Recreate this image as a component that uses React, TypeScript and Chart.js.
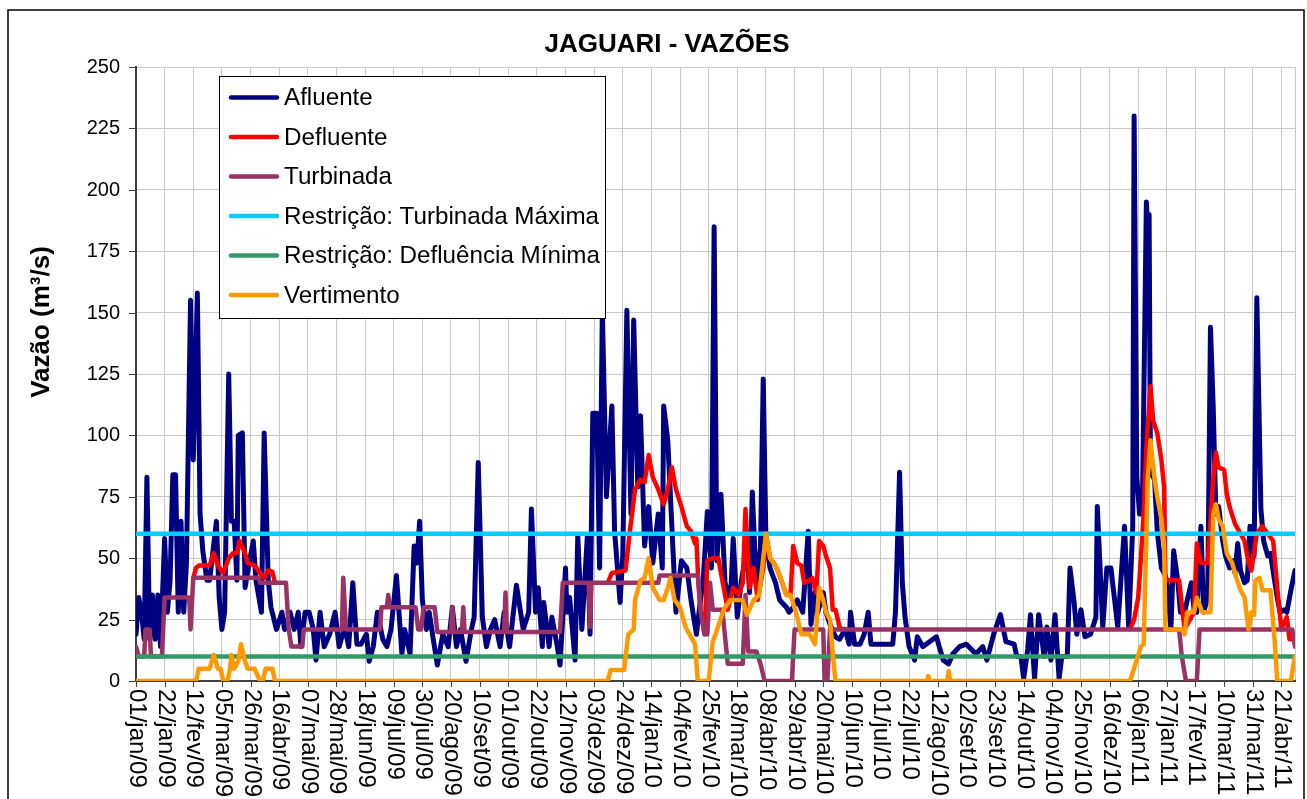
import React, { useEffect, useRef } from 'react';
import { Chart, registerables } from 'chart.js';

Chart.register(...registerables);

const TITLE = 'JAGUARI - VAZÕES';
const Y_TITLE = 'Vazão (m³/s)';

const X_TICK_LABELS = ['01/jan/09', '22/jan/09', '12/fev/09', '05/mar/09', '26/mar/09', '16/abr/09', '07/mai/09', '28/mai/09', '18/jun/09', '09/jul/09', '30/jul/09', '20/ago/09', '10/set/09', '01/out/09', '22/out/09', '12/nov/09', '03/dez/09', '24/dez/09', '14/jan/10', '04/fev/10', '25/fev/10', '18/mar/10', '08/abr/10', '29/abr/10', '20/mai/10', '10/jun/10', '01/jul/10', '22/jul/10', '12/ago/10', '02/set/10', '23/set/10', '14/out/10', '04/nov/10', '25/nov/10', '16/dez/10', '06/jan/11', '27/jan/11', '17/fev/11', '10/mar/11', '31/mar/11', '21/abr/11'];
const X_TICK_STEP_DAYS = 21;
const LAST_DAY = 850;
const Y_TICK_LABELS = ['0', '25', '50', '75', '100', '125', '150', '175', '200', '225', '250'];
const Y_TICK_VALUES = [0, 25, 50, 75, 100, 125, 150, 175, 200, 225, 250];

const SERIES_NAMES = ['Afluente', 'Defluente', 'Turbinada', 'Restrição: Turbinada Máxima', 'Restrição: Defluência Mínima', 'Vertimento'];
const SERIES_COLORS = ['#000080', '#FF0000', '#993366', '#00CCFF', '#339966', '#FF9900'];

// [day since 01/jan/09, m³/s]
const afluente: [number, number][] = [
  [0, 19], [2, 34], [4, 28], [6, 17], [8, 83], [10, 17], [12, 35], [14, 17], [16, 35], [18, 14], [21, 58], [23, 28], [25, 41], [27, 84], [29, 84], [31, 28], [33, 65], [35, 28], [37, 48], [40, 155], [42, 90], [45, 158], [47, 68], [49, 53], [52, 41], [54, 41], [59, 65], [61, 34], [63, 21], [65, 28], [68, 125], [70, 65], [72, 65], [74, 41], [75, 100], [78, 101], [80, 38], [83, 48], [86, 57], [88, 41], [92, 28], [94, 101], [97, 41], [99, 30], [103, 21], [107, 28], [109, 21], [113, 28], [116, 21], [119, 28], [121, 14], [124, 28], [127, 28], [130, 21], [132, 8.5], [135, 28], [138, 14], [142, 19],
  [146, 28], [149, 14], [153, 22], [156, 14], [159, 40], [162, 15], [165, 15], [169, 19], [171, 8], [174, 14], [177, 28], [181, 17], [184, 14], [187, 21], [191, 43], [195, 11], [197, 21], [201, 11], [204, 55], [206, 48], [208, 65], [210, 33], [213, 21], [215, 28], [218, 17], [221, 6.5], [225, 19], [229, 14], [232, 30], [235, 14], [238, 21], [242, 8], [246, 21], [248, 26], [251, 89], [254, 26], [257, 14], [260, 21], [263, 25], [267, 14], [270, 28], [274, 14], [279, 39],
  [284, 21], [288, 28], [290, 70], [293, 28], [295, 38], [298, 14], [299, 32], [303, 14], [305, 26], [309, 14], [311, 6.5], [315, 46], [316, 28], [318, 34], [322, 8.5], [324, 59], [327, 21], [331, 59], [333, 19], [335, 109], [338, 109], [340, 46], [342, 151], [345, 75], [349, 112], [351, 61], [355, 32], [357, 51], [360, 151], [363, 68], [365, 147], [368, 79], [370, 108], [373, 55], [376, 71], [379, 48], [383, 68], [386, 46], [387, 112], [390, 98], [393, 63], [396, 28], [400, 49], [404, 46], [407, 33], [411, 19],
  [414, 33], [416, 41], [419, 69], [422, 46], [424, 185], [426, 49], [429, 76], [432, 40], [436, 33], [438, 58], [441, 26], [444, 41], [448, 54], [450, 36], [452, 77], [455, 38], [458, 54], [460, 123], [462, 57], [465, 46], [469, 40], [472, 33], [477, 30],
  [479, 28], [482, 30], [485, 33], [489, 28], [493, 61], [495, 23], [498, 36], [500, 28], [504, 36], [506, 28], [509, 23], [513, 18], [516, 17], [520, 21], [523, 15], [524, 28], [527, 15], [531, 15], [534, 19], [537, 28], [539, 15], [543, 15], [546, 15], [550, 15], [555, 15], [557, 28], [560, 85], [562, 40], [564, 26], [567, 14], [571, 8.5], [573, 18], [577, 14], [582, 16], [587, 18], [592, 8.5], [596, 7], [599, 11], [604, 14], [609, 15], [616, 11], [621, 14],
  [624, 8.5], [629, 19], [634, 27], [638, 16], [644, 15], [646, 10], [649, 10], [651, 1], [654, 13], [656, 27], [659, 1], [662, 27], [666, 10], [668, 22], [671, 8.5], [674, 27], [677, 1], [679, 10], [683, 10], [685, 46], [688, 32], [690, 19], [693, 29], [696, 18], [700, 19], [704, 26], [705, 71], [709, 22], [712, 46], [715, 46], [720, 22], [725, 63], [728, 22], [731, 63], [732, 230], [734, 83],
  [736, 68], [738, 68], [741, 195], [742, 185], [743, 190], [744, 85], [747, 82], [749, 61], [752, 46], [754, 44], [756, 41], [759, 21], [761, 53], [764, 41], [766, 28], [769, 28], [771, 33], [774, 40], [776, 29], [778, 28], [781, 63], [783, 28], [786, 34], [788, 144], [790, 112], [792, 68], [794, 71], [797, 57], [799, 51], [802, 46], [804, 49], [806, 44], [808, 56], [810, 45], [813, 40], [815, 41], [817, 63], [820, 51], [822, 156], [825, 70], [827, 57], [830, 51], [832, 52], [835, 41], [837, 34], [839, 28], [842, 29], [844, 28], [847, 37], [850, 45],
];

// null marks where Defluente lies under Turbinada
const defluente: [number, number | null][] = [
  [42, 42], [44, 46], [46, 47], [54, 47], [57, 52], [60, 47], [64, 44], [68, 50], [71, 52], [74, 52], [76, 57], [80, 52], [82, 48], [87, 47], [91, 44], [94, 42], [97, 45], [100, 44.5], [102, 40], [103, null],
  [346, 40], [349, 44], [359, 45], [362, 60], [366, 78], [370, 82], [373, 81], [376, 92], [379, 83], [383, 78], [387, 72], [390, 78], [393, 87], [396, 78], [400, 71], [404, 63], [407, 61], [410, 56], [411, 58], [412, 45], [414, 29], [417, 19], [419, 49], [423, 50], [427, 50], [431, 38], [434, 29], [438, 38], [442, 35], [445, 40], [447, 70], [450, 38], [453, 46], [456, 33], [460, 46], [462, 60], [465, 50], [469, 47], [472, 43], [477, 35], [480, 35], [482, 55], [485, 48], [488, 47], [490, 40], [494, 41], [496, 42], [499, 36], [501, 57], [504, 55], [506, 51], [509, 46], [511, 29], [513, 29], [516, 22], [518, 21], [519, null],
  [729, 21], [732, 25], [735, 34], [737, 50], [739, 68], [741, 95], [744, 120], [746, 106], [749, 101], [752, 90], [754, 79], [755, 41], [765, 41], [769, 21], [776, 28], [778, 56], [781, 48], [786, 48], [790, 82], [792, 93], [794, 87], [798, 86], [800, 76], [802, 71], [806, 64], [810, 60], [813, 57], [816, 48], [818, 45], [822, 60], [826, 63], [834, 57], [837, 38], [840, 21], [844, 26], [846, 17], [850, 17],
];

const turbinada: [number, number][] = [
  [0, 14], [2, 10], [6, 10], [7, 21], [10, 21], [11, 10], [19, 10], [21, 34], [39, 34], [40, 21], [42, 42], [90, 42], [91, 40], [110, 40], [112, 21], [114, 14], [122, 14], [123, 21], [151, 21], [152, 42], [154, 21], [179, 21], [180, 30], [184, 30], [185, 35], [186, 30], [205, 30], [207, 21], [209, 21], [211, 30], [219, 30], [221, 20], [231, 20], [232, 30], [233, 20], [239, 20], [240, 30], [241, 20], [270, 20], [271, 36], [272, 20], [311, 20], [313, 40], [332, 40], [333, 22], [334, 40], [383, 40], [384, 43], [412, 43], [414, 29], [417, 19], [419, 19], [421, 40], [423, 29], [430, 29], [434, 7], [445, 7], [447, 35], [449, 12], [455, 12], [458, 7], [461, 0], [481, 0], [483, 21], [504, 21], [505, 0], [507, 0], [509, 21], [765, 21], [767, 10], [770, 0], [778, 0], [780, 21], [848, 21], [850, 14],
];

const TURBINADA_MAXIMA = 60;
const DEFLUENCIA_MINIMA = 10;

const vertimento: [number, number][] = [
  [0, 0], [44, 0], [46, 5], [54, 5], [57, 10.6], [60, 5], [62, 5], [64, 0], [67, 0], [69, 5], [70, 10.6], [72, 5], [75, 8], [77, 15], [80, 8], [82, 5], [87, 5], [91, 0], [93, 0], [95, 5], [100, 5], [102, 0],
  [346, 0], [348, 4.5], [358, 4.5], [361, 19], [365, 21], [366, 33], [370, 41], [373, 42], [376, 50], [379, 38], [384, 33], [387, 33], [390, 38], [392, 42], [395, 33], [399, 30], [403, 22], [406, 19], [410, 15], [412, 0], [420, 0], [423, 16], [425, 19], [431, 29], [436, 33], [445, 33], [448, 27], [453, 33], [457, 35], [462, 60], [465, 50], [469, 47], [472, 43], [477, 35], [480, 35], [484, 28], [488, 19], [494, 19], [498, 15], [501, 38], [504, 33], [506, 28], [509, 25], [511, 11], [513, 0],
  [580, 0], [581, 2], [582, 0], [595, 0], [596, 4], [597, 0],
  [729, 0], [733, 7], [737, 14], [739, 15], [742, 82], [744, 98], [747, 82], [749, 75], [752, 66], [754, 55], [755, 21], [768, 21], [769, 19], [771, 28], [776, 28], [778, 34], [782, 28], [788, 28], [790, 68], [792, 72], [794, 66], [797, 63], [800, 52], [804, 48], [807, 42], [810, 37], [813, 34], [816, 21], [818, 28], [820, 27], [821, 41], [824, 42], [826, 37], [832, 37], [835, 17], [837, 0], [847, 0], [849, 7], [850, 10],
];

const FONT = '"Liberation Sans", Arial, Helvetica, sans-serif';

const toPoints = (arr: [number, number | null][]) => arr.map(([x, y]) => ({ x, y }));

const decorPlugin = {
  id: 'decor',
  afterDraw(chart: any) {
    const ctx: CanvasRenderingContext2D = chart.ctx;
    const xs = chart.scales.x;
    const ys = chart.scales.y;
    const { left, bottom } = chart.chartArea;
    ctx.save();

    // outer frame
    ctx.strokeStyle = '#000';
    ctx.lineWidth = 1.5;
    ctx.strokeRect(8, 10, 1296, 820);

    // title
    ctx.fillStyle = '#000';
    ctx.font = `bold 26px ${FONT}`;
    ctx.textAlign = 'center';
    ctx.textBaseline = 'middle';
    ctx.fillText(TITLE, 667, 45);

    // y-axis title
    ctx.save();
    ctx.translate(42, 322);
    ctx.rotate(-Math.PI / 2);
    ctx.font = `bold 26px ${FONT}`;
    ctx.fillText(Y_TITLE, 0, 0);
    ctx.restore();

    // y ticks
    ctx.font = `20px ${FONT}`;
    ctx.textAlign = 'right';
    ctx.textBaseline = 'middle';
    ctx.strokeStyle = '#404040';
    ctx.lineWidth = 1;
    Y_TICK_VALUES.forEach((v, i) => {
      const y = Math.round(ys.getPixelForValue(v)) + 0.5;
      ctx.beginPath();
      ctx.moveTo(left - 7, y);
      ctx.lineTo(left, y);
      ctx.stroke();
      ctx.fillText(Y_TICK_LABELS[i], left - 16, y);
    });

    // x ticks + rotated labels
    ctx.font = `24px ${FONT}`;
    ctx.textAlign = 'left';
    ctx.textBaseline = 'middle';
    X_TICK_LABELS.forEach((lab, i) => {
      const x = Math.round(xs.getPixelForValue(i * X_TICK_STEP_DAYS)) + 0.5;
      ctx.beginPath();
      ctx.moveTo(x, bottom);
      ctx.lineTo(x, bottom + 6);
      ctx.stroke();
      ctx.save();
      ctx.translate(x, bottom + 8);
      ctx.rotate(Math.PI / 2);
      ctx.fillText(lab, 0, 0);
      ctx.restore();
    });

    // legend
    const lx = 219.5, ly = 76.5, lw = 386, lh = 242;
    ctx.fillStyle = '#fff';
    ctx.fillRect(lx, ly, lw, lh);
    ctx.strokeStyle = '#000';
    ctx.lineWidth = 1;
    ctx.strokeRect(lx, ly, lw, lh);
    ctx.font = `24.2px ${FONT}`;
    ctx.textAlign = 'left';
    ctx.textBaseline = 'middle';
    SERIES_NAMES.forEach((name, i) => {
      const y = 97.5 + i * 39.5;
      ctx.strokeStyle = SERIES_COLORS[i];
      ctx.lineWidth = 4.5;
      ctx.lineCap = 'round';
      ctx.beginPath();
      ctx.moveTo(231, y);
      ctx.lineTo(277, y);
      ctx.stroke();
      ctx.fillStyle = '#000';
      ctx.fillText(name, 284, y + 1);
    });
    ctx.restore();
  },
};

export default function App() {
  const ref = useRef<HTMLCanvasElement | null>(null);
  useEffect(() => {
    if (!ref.current) return;
    const ds = (i: number, data: any[], order: number, width = 4.5) => ({
      label: SERIES_NAMES[i],
      data,
      borderColor: SERIES_COLORS[i],
      backgroundColor: SERIES_COLORS[i],
      borderWidth: width,
      pointRadius: 0,
      tension: 0,
      fill: false,
      spanGaps: false,
      borderJoinStyle: 'round' as const,
      borderCapStyle: 'round' as const,
      order,
    });
    const chart = new Chart(ref.current, {
      type: 'line',
      data: {
        datasets: [
          ds(0, toPoints(afluente), 6, 5),
          ds(1, toPoints(defluente), 5),
          ds(2, toPoints(turbinada), 4),
          ds(3, [{ x: 0, y: TURBINADA_MAXIMA }, { x: LAST_DAY, y: TURBINADA_MAXIMA }], 3),
          ds(4, [{ x: 0, y: DEFLUENCIA_MINIMA }, { x: LAST_DAY, y: DEFLUENCIA_MINIMA }], 2),
          ds(5, toPoints(vertimento), 1),
        ],
      },
      options: {
        animation: false,
        responsive: false,
        maintainAspectRatio: false,
        layout: { padding: { left: 0, top: 67, right: 12, bottom: 0 } },
        plugins: { legend: { display: false }, title: { display: false }, tooltip: { enabled: false } },
        scales: {
          x: {
            type: 'linear',
            min: 0,
            max: LAST_DAY,
            afterBuildTicks: (s: any) => {
              s.ticks = X_TICK_LABELS.map((_, i) => ({ value: i * X_TICK_STEP_DAYS })).concat([{ value: LAST_DAY }]);
            },
            afterFit: (s: any) => { s.height = 118; },
            ticks: { display: false },
            grid: { color: '#C8C8C8', lineWidth: 1, drawTicks: false },
            border: { display: true, color: '#404040', width: 2 },
          },
          y: {
            type: 'linear',
            min: 0,
            max: 250,
            afterBuildTicks: (s: any) => { s.ticks = Y_TICK_VALUES.map((v) => ({ value: v })); },
            afterFit: (s: any) => { s.width = 136; },
            ticks: { display: false },
            grid: { color: '#C8C8C8', lineWidth: 1, drawTicks: false },
            border: { display: true, color: '#404040', width: 2 },
          },
        },
      },
      plugins: [decorPlugin],
    });
    return () => chart.destroy();
  }, []);
  return (
    <div style={{ position: 'absolute', left: 0, top: 0, width: 1307, height: 799, background: '#fff' }}>
      <canvas ref={ref} width={1307} height={799} style={{ display: 'block', width: 1307, height: 799 }} />
    </div>
  );
}
